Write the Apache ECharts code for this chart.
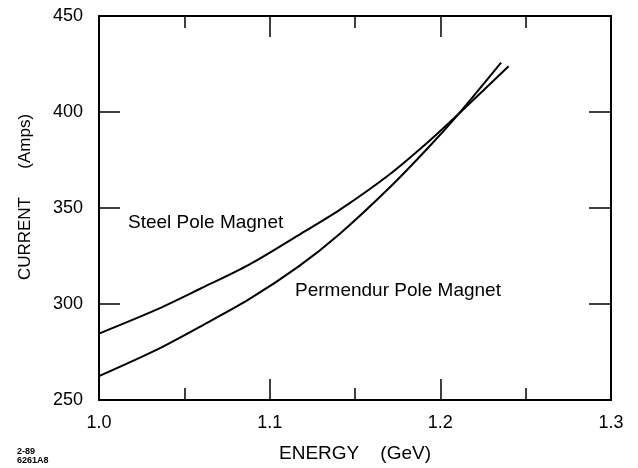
<!DOCTYPE html>
<html>
<head>
<meta charset="utf-8">
<script src="https://cdn.jsdelivr.net/npm/echarts@6/dist/echarts.min.js"></script>
<style>
html,body{margin:0;padding:0;background:#fff;}
#chart{width:638px;height:468px;}
</style>
</head>
<body>
<div id="chart"></div>
<script>
// Data
const xTickLabels = ['1.0', '1.1', '1.2', '1.3'];
const yTickLabels = ['250', '300', '350', '400', '450'];

const steelEnergy   = [1.000, 1.033, 1.059, 1.088, 1.117, 1.141, 1.170, 1.193, 1.2105, 1.240];
const steelCurrent  = [284.6, 296.8, 307.8, 320.5, 335.9, 349.0, 367.3, 384.5, 398.8, 423.8];

const permEnergy    = [1.000, 1.033, 1.059, 1.088, 1.117, 1.141, 1.170, 1.193, 1.2105, 1.2356];
const permCurrent   = [262.4, 275.8, 288.1, 302.5, 319.6, 336.5, 360.4, 381.5, 398.8, 425.7];

const seriesNames = ['Steel Pole Magnet', 'Permendur Pole Magnet'];

const zip = (xs, ys) => xs.map((x, i) => [x, ys[i]]);

const FONT = "'Liberation Sans', Arial, Helvetica, sans-serif";
const black = '#000';

const xCommon = {
  type: 'value', min: 1.0, max: 1.3, interval: 0.1,
  axisLine: { show: true, onZero: false, lineStyle: { color: black, width: 2 } },
  axisTick: { show: true, inside: true, length: 21, lineStyle: { color: black, width: 1.5 } },
  minorTick: { show: true, splitNumber: 2, length: 12, lineStyle: { color: black, width: 1.5 } },
  splitLine: { show: false }, minorSplitLine: { show: false }
};
const yCommon = {
  type: 'value', min: 250, max: 450, interval: 50,
  axisLine: { show: true, onZero: false, lineStyle: { color: black, width: 2 } },
  axisTick: { show: true, inside: true, length: 21, lineStyle: { color: black, width: 1.5 } },
  splitLine: { show: false }
};

const chart = echarts.init(document.getElementById('chart'), null, { renderer: 'canvas' });
chart.setOption({
  animation: false,
  backgroundColor: '#fff',
  textStyle: { fontFamily: FONT, color: black },
  grid: { left: 99, right: 27, top: 16, bottom: 65, containLabel: false },
  xAxis: [
    Object.assign({}, xCommon, {
      position: 'bottom',
      axisLabel: {
        show: true, fontSize: 18, color: black, margin: 14, fontFamily: FONT,
        formatter: v => xTickLabels[Math.round((v - 1.0) / 0.1)]
      },
      name: 'ENERGY    (GeV)', nameLocation: 'middle', nameGap: 44,
      nameTextStyle: { fontSize: 19, color: black, fontFamily: FONT }
    }),
    Object.assign({}, xCommon, { position: 'top', axisLabel: { show: false } })
  ],
  yAxis: [
    Object.assign({}, yCommon, {
      position: 'left',
      axisLabel: {
        show: true, fontSize: 18, color: black, margin: 16, fontFamily: FONT,
        formatter: v => yTickLabels[Math.round((v - 250) / 50)]
      }
    }),
    Object.assign({}, yCommon, {
      position: 'right',
      axisTick: { show: true, inside: true, length: 22, lineStyle: { color: black, width: 1.5 } },
      axisLabel: { show: false }
    })
  ],
  series: [
    {
      name: seriesNames[0], type: 'line', xAxisIndex: 0, yAxisIndex: 0,
      data: zip(steelEnergy, steelCurrent), smooth: 0.3, showSymbol: false,
      lineStyle: { color: black, width: 2 }
    },
    {
      name: seriesNames[1], type: 'line', xAxisIndex: 0, yAxisIndex: 0,
      data: zip(permEnergy, permCurrent), smooth: 0.3, showSymbol: false,
      lineStyle: { color: black, width: 2 }
    }
  ],
  graphic: [
    {
      type: 'text', x: 25, y: 197, rotation: Math.PI / 2,
      style: { text: 'CURRENT      (Amps)', font: '17px ' + FONT, fill: black, align: 'center', verticalAlign: 'middle' }
    },
    {
      type: 'text', x: 128, y: 223,
      style: { text: seriesNames[0], font: '19px ' + FONT, fill: black, align: 'left', verticalAlign: 'middle' }
    },
    {
      type: 'text', x: 295, y: 291,
      style: { text: seriesNames[1], font: '19px ' + FONT, fill: black, align: 'left', verticalAlign: 'middle' }
    },
    {
      type: 'text', x: 17, y: 447,
      style: { text: '2-89\n6261A8', font: 'bold 9px ' + FONT, fill: black, align: 'left', verticalAlign: 'top', lineHeight: 9 }
    }
  ]
});
</script>
</body>
</html>
